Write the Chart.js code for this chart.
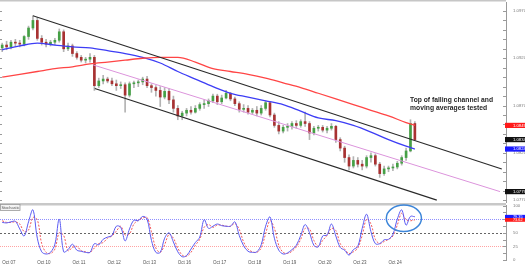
<!DOCTYPE html>
<html><head><meta charset="utf-8">
<script src="https://cdn.jsdelivr.net/npm/chart.js@4.4.1/dist/chart.umd.min.js"></script>
<style>
html,body{margin:0;padding:0;background:#fff;overflow:hidden;}
#wrap{position:relative;width:525px;height:264px;background:#fff;}
#main{position:absolute;left:0;top:0;width:525px;height:204px;}
#stoch{position:absolute;left:0;top:203px;width:525px;height:61px;}
</style></head><body>
<div id="wrap">
<canvas id="main" width="525" height="204"></canvas>
<canvas id="stoch" width="525" height="61"></canvas>
</div>
<script>
// ---------------- DATA ----------------
const dayLabels = ["Oct 07","Oct 10","Oct 11","Oct 12","Oct 13","Oct 16","Oct 17","Oct 18","Oct 19","Oct 20","Oct 23","Oct 24"];
const priceTicks = [1.077,1.078,1.079,1.080,1.081,1.082,1.083,1.084,1.085,1.086,1.087,1.088,1.089,1.090,1.091,1.092,1.093,1.094,1.095,1.096,1.097];
const priceLabelTicks = [1.077,1.082,1.087,1.092,1.097];
const stochTicks = [0,12.5,25,37.5,50,62.5,75,87.5,100];
const stochLabelTicks = [0,25,50,75,100];
const stochLevels = [75,50,25];

const open = [
1.0931,1.0934,1.0932,1.0937,1.0936,1.0935,1.0943,1.0952,1.0960,1.0941,
1.0937,1.0935,1.0937,1.0939,1.0948,1.0930,1.0933,1.0925,1.0921,1.0918,
1.0919,1.0921,1.0891,1.0896,1.0898,1.0896,1.0893,1.0891,1.0892,1.0881,
1.0893,1.0894,1.0895,1.0898,1.0891,1.0889,1.0886,1.0879,1.0885,1.0876,
1.0867,1.0859,1.0862,1.0865,1.0863,1.0867,1.0871,1.0872,1.0875,1.0880,
1.0874,1.0878,1.0883,1.0877,1.0872,1.0866,1.0867,1.0863,1.0865,1.0862,
1.0867,1.0873,1.0860,1.0849,1.0843,1.0847,1.0848,1.0851,1.0849,1.0853,
1.0851,1.0841,1.0846,1.0847,1.0844,1.0846,1.0848,1.0834,1.0825,1.0815,
1.0806,1.0812,1.0808,1.0806,1.0815,1.0817,1.0808,1.0798,1.0803,1.0804,
1.0805,1.0809,1.0815,1.0822,1.0851];
const high = [
1.0936,1.0938,1.0939,1.0940,1.0939,1.0944,1.0954,1.0965,1.0963,1.0944,
1.0940,1.0939,1.0941,1.0951,1.0950,1.0936,1.0935,1.0927,1.0923,1.0921,
1.0925,1.0923,1.0899,1.0902,1.0900,1.0899,1.0897,1.0895,1.0894,1.0895,
1.0896,1.0897,1.0900,1.0901,1.0893,1.0891,1.0890,1.0889,1.0888,1.0880,
1.0870,1.0864,1.0867,1.0869,1.0870,1.0873,1.0876,1.0877,1.0882,1.0882,
1.0881,1.0886,1.0884,1.0879,1.0874,1.0871,1.0870,1.0867,1.0869,1.0870,
1.0875,1.0874,1.0862,1.0853,1.0849,1.0851,1.0853,1.0854,1.0855,1.0863,
1.0853,1.0848,1.0849,1.0849,1.0848,1.0851,1.0849,1.0836,1.0827,1.0818,
1.0816,1.0815,1.0812,1.0817,1.0820,1.0819,1.0810,1.0806,1.0806,1.0808,
1.0811,1.0817,1.0825,1.0855,1.0853];
const low = [
1.0927,1.0929,1.0930,1.0933,1.0932,1.0933,1.0940,1.0950,1.0939,1.0934,
1.0932,1.0933,1.0934,1.0937,1.0927,1.0928,1.0922,1.0919,1.0916,1.0915,
1.0916,1.0886,1.0889,1.0893,1.0894,1.0891,1.0886,1.0888,1.0863,1.0879,
1.0889,1.0890,1.0892,1.0889,1.0884,1.0880,1.0869,1.0877,1.0872,1.0863,
1.0855,1.0855,1.0859,1.0861,1.0862,1.0865,1.0867,1.0869,1.0873,1.0871,
1.0872,1.0877,1.0875,1.0870,1.0863,1.0863,1.0861,1.0861,1.0859,1.0860,
1.0865,1.0858,1.0847,1.0840,1.0841,1.0843,1.0845,1.0846,1.0847,1.0848,
1.0834,1.0839,1.0843,1.0842,1.0841,1.0844,1.0831,1.0822,1.0810,1.0802,
1.0804,1.0805,1.0802,1.0804,1.0810,1.0806,1.0794,1.0796,1.0800,1.0801,
1.0803,1.0807,1.0812,1.0821,1.0833];
const close = [
1.0934,1.0932,1.0937,1.0936,1.0935,1.0943,1.0952,1.0960,1.0941,1.0937,
1.0935,1.0937,1.0939,1.0948,1.0930,1.0933,1.0925,1.0921,1.0918,1.0919,
1.0921,1.0891,1.0896,1.0898,1.0896,1.0893,1.0891,1.0892,1.0881,1.0893,
1.0894,1.0895,1.0898,1.0891,1.0889,1.0886,1.0879,1.0885,1.0876,1.0867,
1.0859,1.0862,1.0865,1.0863,1.0867,1.0871,1.0872,1.0875,1.0880,1.0874,
1.0878,1.0883,1.0877,1.0872,1.0866,1.0867,1.0863,1.0865,1.0862,1.0867,
1.0873,1.0860,1.0849,1.0843,1.0847,1.0848,1.0851,1.0849,1.0853,1.0851,
1.0841,1.0846,1.0847,1.0844,1.0846,1.0848,1.0834,1.0825,1.0815,1.0806,
1.0812,1.0808,1.0806,1.0815,1.0817,1.0808,1.0798,1.0803,1.0804,1.0805,
1.0809,1.0815,1.0822,1.0851,1.0834];

// moving averages, sampled at candle indices
const maIdx  = [0,4,8,12,16,20,24,28,32,36,40,44,48,52,56,60,64,68,72,76,80,84,88,92,94];
const maRed  = [1.0900,1.0903,1.0906,1.0909,1.0911,1.0914,1.0916,1.0918,1.0920,1.0921,1.0921,1.0916,1.0909,1.0906,1.0903,1.0899,1.0894,1.0889,1.0883,1.0877,1.0871,1.0865,1.0859,1.0852,1.0849];
const maBlue = [1.0929,1.0933,1.0936,1.0934,1.0932,1.0931,1.0928,1.0925,1.0921,1.0915,1.0906,1.0898,1.0890,1.0883,1.0879,1.0875,1.0871,1.0864,1.0857,1.0854,1.0849,1.0842,1.0834,1.0827,1.0824];

// falling channel (candle index, price)
const chanUpperX = [7.0, 113.8],  chanUpperY = [1.0965, 1.0803];
const chanLowerX = [21.1, 99.0],  chanLowerY = [1.0888, 1.0770];
const chanMidX   = [20.7, 113.4], chanMidY   = [1.0913, 1.0779];

// stochastic %K and %D
const stochK = [
69,68,70,71,57,44,70,92,40,15,
11,14,29,75,15,19,29,18,16,14,
14,30,28,38,42,45,62,60,35,57,
73,72,80,75,36,14,14,40,50,33,
15,6,8,20,32,42,74,58,62,66,
63,62,62,70,45,26,16,14,15,28,
62,79,40,18,11,13,19,27,45,65,
50,27,24,44,46,66,44,23,18,9,
19,25,58,84,52,30,30,37,38,47,
75,92,64,80,79.35];
const stochD = [
72,69,69,70,66,52,55,78,74,30,
14,12,20,50,45,17,23,25,17,15,
14,22,30,32,40,44,53,62,46,48,
66,73,77,78,52,22,14,28,47,40,
22,9,7,14,27,38,60,65,60,64,
64,62,62,67,56,33,20,15,14,22,
48,72,58,27,14,12,16,24,38,58,
57,36,25,36,45,58,54,30,20,12,
15,22,45,75,66,38,30,34,38,44,
64,86,74,72,73.62];

const annotationLines = ["Top of falling channel and", "moving averages tested"];

// ---------------- LAYOUT CONSTANTS ----------------
const X_MIN = -0.5, X_MAX = 114.76;
const FIRST_DAY_IDX = 1.5, CANDLES_PER_DAY = 8;
const FONT = '"Liberation Sans", Arial, sans-serif';
Chart.defaults.font.family = FONT;

const last = a => a[a.length - 1];
const idx = close.map((_, i) => i);
const xy = (xs, ys) => xs.map((x, i) => ({x: x, y: ys[i]}));

const priceTags = [
  {value: last(maRed),  color: '#ff1a1a'},
  {value: last(close),  color: '#111111'},
  {value: last(maBlue), color: '#1a1aff'},
  {value: last(chanMidY), color: '#111111'}
];
const stochTags = [
  {value: last(stochK), color: '#1a1aff'},
  {value: last(stochD), color: '#ff1a1a'}
];
const noteAnchor = {x: 92.9, y: 1.0876};
const ellipse = {x: 91.5, y: 76.5, rx: 4.0, ry: 24.4};

// ---------------- MAIN CHART ----------------
const mainDecor = {
  id: 'mainDecor',
  afterDraw(chart) {
    const {ctx, chartArea: a, scales: {x, y}} = chart;
    ctx.save();
    ctx.fillStyle = '#c6c6c6';
    ctx.fillRect(0, 0, a.right, 1.5);
    ctx.strokeStyle = '#9a9a9a'; ctx.lineWidth = 1;
    priceTicks.forEach(v => {
      const py = Math.round(y.getPixelForValue(v)) + 0.5;
      ctx.beginPath();
      ctx.moveTo(a.left, py); ctx.lineTo(a.left + 2, py);
      ctx.moveTo(a.right - 3, py); ctx.lineTo(a.right, py);
      ctx.stroke();
    });
    ctx.fillStyle = '#262626';
    ctx.font = 'bold 7.5px ' + FONT;
    ctx.textBaseline = 'middle'; ctx.textAlign = 'left';
    const ax = x.getPixelForValue(noteAnchor.x), ay = y.getPixelForValue(noteAnchor.y);
    ctx.fillText(annotationLines[0], ax, ay, 83);
    ctx.fillText(annotationLines[1], ax, ay + 8.5, 77);
    priceTags.forEach(t => {
      const py = y.getPixelForValue(t.value);
      ctx.fillStyle = t.color;
      ctx.fillRect(a.right - 1, py - 2.6, chart.width - a.right + 1, 5.2);
      ctx.fillStyle = '#fff';
      ctx.font = '4.2px ' + FONT;
      ctx.fillText(t.value.toFixed(4), a.right + 7, py + 0.2);
    });
    ctx.restore();
  }
};

const bodyColors = idx.map(i => close[i] >= open[i] ? '#45a045' : '#a83232');

new Chart(document.getElementById('main'), {
  type: 'bar',
  data: {
    datasets: [
      {type: 'line', label: 'upper', data: xy(chanUpperX, chanUpperY), borderColor: '#2a2a2a', borderWidth: 1.1, pointRadius: 0, order: 0},
      {type: 'line', label: 'lower', data: xy(chanLowerX, chanLowerY), borderColor: '#2a2a2a', borderWidth: 1.1, pointRadius: 0, order: 0},
      {type: 'line', label: 'mid', data: xy(chanMidX, chanMidY), borderColor: '#dc94dc', borderWidth: 1, pointRadius: 0, order: 1},
      {type: 'line', label: 'maRed', data: xy(maIdx, maRed), borderColor: '#ff4545', borderWidth: 1.3, pointRadius: 0, cubicInterpolationMode: 'monotone', order: 2},
      {type: 'line', label: 'maBlue', data: xy(maIdx, maBlue), borderColor: '#3d3df5', borderWidth: 1.3, pointRadius: 0, cubicInterpolationMode: 'monotone', order: 2},
      {type: 'bar', label: 'body', data: idx.map(i => ({x: i, y: [open[i], close[i]]})), backgroundColor: bodyColors, borderWidth: 0, barThickness: 2, grouped: false, minBarLength: 1, order: 5},
      {type: 'bar', label: 'wick', data: idx.map(i => ({x: i, y: [low[i], high[i]]})), backgroundColor: '#b3b3b3', borderWidth: 0, barThickness: 1, grouped: false, order: 10}
    ]
  },
  options: {
    responsive: false, animation: false, events: [],
    layout: {padding: {top: 2, bottom: 2, left: 0, right: 0}, autoPadding: false},
    plugins: {legend: {display: false}, tooltip: {enabled: false}},
    scales: {
      x: {type: 'linear', min: X_MIN, max: X_MAX, offset: false, display: false},
      y: {
        position: 'right', min: 1.0768, max: 1.09795, beginAtZero: false,
        afterFit(s) { s.width = 19; s.paddingTop = 0; s.paddingBottom = 0; },
        afterBuildTicks(s) { s.ticks = priceTicks.map(v => ({value: v})); },
        ticks: {
          autoSkip: false, padding: 7, color: '#7a7a7a',
          font: {size: 4.3, lineHeight: 0.9, family: FONT},
          callback: v => priceLabelTicks.some(t => Math.abs(t - v) < 1e-7) ? Number(v).toFixed(4) : ''
        },
        grid: {display: true, drawOnChartArea: false, drawTicks: false},
        border: {display: true, color: '#9a9a9a', width: 1}
      }
    }
  },
  plugins: [mainDecor]
});

// ---------------- STOCHASTIC CHART ----------------
const stochDecor = {
  id: 'stochDecor',
  beforeDatasetsDraw(chart) {
    const {ctx, chartArea: a, scales: {y}} = chart;
    ctx.save();
    const styles = [
      {c: '#8f8fff', d: [1, 1]},
      {c: '#666666', d: [2, 2]},
      {c: '#ffa3a3', d: [1, 1]}
    ];
    stochLevels.forEach((lv, i) => {
      const py = Math.round(y.getPixelForValue(lv)) + 0.5;
      ctx.strokeStyle = styles[i].c; ctx.setLineDash(styles[i].d); ctx.lineWidth = 1;
      ctx.beginPath(); ctx.moveTo(a.left, py); ctx.lineTo(a.right, py); ctx.stroke();
    });
    ctx.restore();
  },
  afterDraw(chart) {
    const {ctx, chartArea: a, scales: {x, y}} = chart;
    ctx.save();
    ctx.fillStyle = '#c8c8c8';
    ctx.fillRect(0, 0, a.right, 2.5);
    ctx.fillStyle = '#f3f3f3'; ctx.fillRect(0.5, 1.5, 19.5, 6);
    ctx.strokeStyle = '#9a9a9a'; ctx.lineWidth = 0.8; ctx.strokeRect(0.5, 1.5, 19.5, 6);
    ctx.fillStyle = '#555'; ctx.font = '4.2px ' + FONT; ctx.textBaseline = 'middle'; ctx.textAlign = 'left';
    ctx.fillText('Stochastic', 1.5, 4.6, 18);
    ctx.strokeStyle = '#9a9a9a'; ctx.lineWidth = 1;
    stochTicks.forEach(v => {
      const py = Math.round(y.getPixelForValue(v)) + 0.5;
      ctx.beginPath(); ctx.moveTo(a.right - 3, py); ctx.lineTo(a.right, py); ctx.stroke();
    });
    const cx = x.getPixelForValue(ellipse.x), cy = y.getPixelForValue(ellipse.y);
    const rx = Math.abs(x.getPixelForValue(ellipse.x + ellipse.rx) - cx);
    const ry = Math.abs(y.getPixelForValue(ellipse.y + ellipse.ry) - cy);
    ctx.strokeStyle = '#3d86d9'; ctx.lineWidth = 1.5;
    ctx.beginPath(); ctx.ellipse(cx, cy, rx, ry, 0, 0, Math.PI * 2); ctx.stroke();
    stochTags.forEach(t => {
      const py = y.getPixelForValue(t.value);
      ctx.fillStyle = t.color;
      ctx.fillRect(a.right - 1, py - 1.9, chart.width - a.right + 1, 3.8);
      ctx.fillStyle = '#fff'; ctx.font = '3.8px ' + FONT;
      ctx.fillText(t.value.toFixed(2), a.right + 7, py + 0.2);
    });
    ctx.restore();
  }
};

new Chart(document.getElementById('stoch'), {
  type: 'line',
  data: {
    datasets: [
      {label: '%K', data: xy(idx, stochK), borderColor: '#5a5af2', borderWidth: 1, pointRadius: 0, tension: 0.35},
      {label: '%D', data: xy(idx, stochD), borderColor: '#f25a5a', borderWidth: 1, borderDash: [2, 1.5], pointRadius: 0, tension: 0.35}
    ]
  },
  options: {
    responsive: false, animation: false, events: [],
    layout: {padding: {top: 2.5, bottom: 0, left: 0, right: 0}, autoPadding: false},
    plugins: {legend: {display: false}, tooltip: {enabled: false}},
    scales: {
      x: {
        type: 'linear', min: X_MIN, max: X_MAX, offset: false,
        afterFit(s) { s.height = 4; s.paddingLeft = 0; s.paddingRight = 0; },
        afterBuildTicks(s) { s.ticks = dayLabels.map((_, k) => ({value: FIRST_DAY_IDX + k * CANDLES_PER_DAY})); },
        ticks: {autoSkip: false, maxRotation: 0, padding: 0.5, color: '#555', font: {size: 4.5, family: FONT},
                callback: (v, i) => dayLabels[i]},
        grid: {display: false, drawTicks: false},
        border: {display: false}
      },
      y: {
        position: 'right', min: 0, max: 100,
        afterFit(s) { s.width = 19; s.paddingTop = 0; s.paddingBottom = 0; },
        afterBuildTicks(s) { s.ticks = stochTicks.map(v => ({value: v})); },
        ticks: {autoSkip: false, padding: 7, color: '#7a7a7a', font: {size: 4.3, lineHeight: 0.9, family: FONT},
                callback: v => stochLabelTicks.includes(v) ? String(v) : ''},
        grid: {display: true, drawOnChartArea: false, drawTicks: false},
        border: {display: true, color: '#9a9a9a', width: 1}
      }
    }
  },
  plugins: [stochDecor]
});
</script>
</body></html>
